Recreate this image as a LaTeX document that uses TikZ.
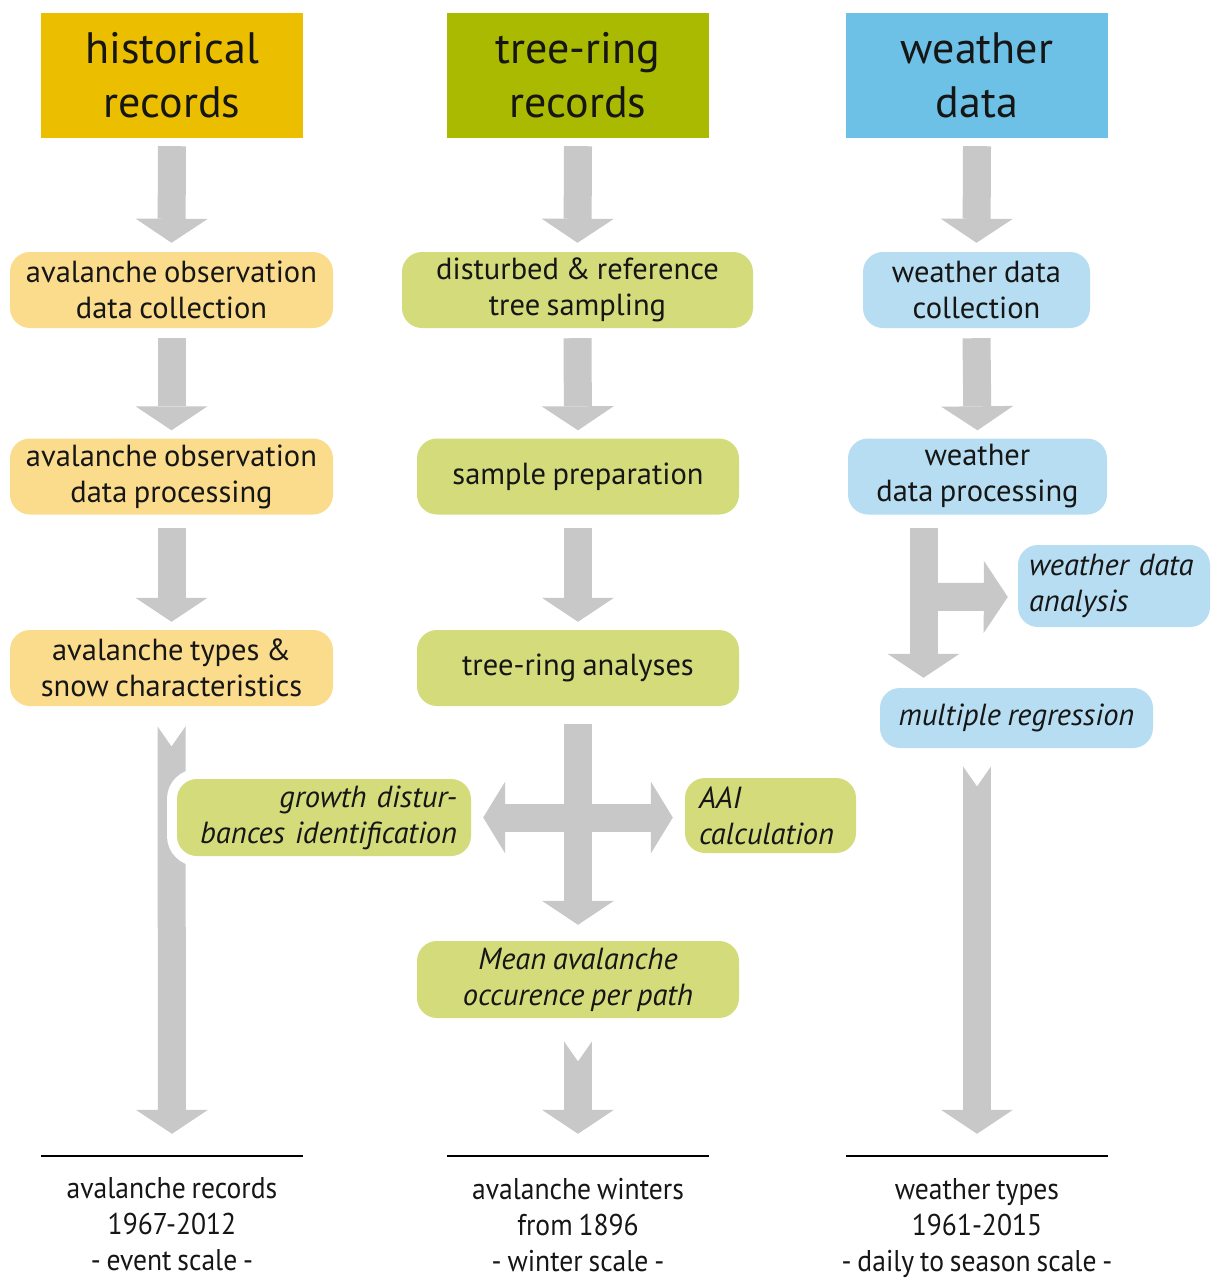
\documentclass[tikz,border=0pt]{standalone}
\usepackage{fontspec}
\setmainfont{PT Sans}[WordSpace=0.8]
\newfontfamily\narrowfont[FakeStretch=0.92,WordSpace=0.8]{PT Sans}
\usetikzlibrary{arrows.meta,calc}
\definecolor{hdrY}{HTML}{EBBE00}
\definecolor{hdrG}{HTML}{A9BA00}
\definecolor{hdrB}{HTML}{6DC1E6}
\definecolor{boxY}{HTML}{FADC8C}
\definecolor{boxG}{HTML}{D4DB7A}
\definecolor{boxB}{HTML}{B6DDF1}
\definecolor{agray}{HTML}{C8C8C8}
\definecolor{ink}{HTML}{161616}
\newcommand\notchat[1]{\fill[white] ($(#1)+(-15,-0.5)$) -- ($(#1)+(15,-0.5)$) -- ($(#1)+(0,21)$) -- cycle;}
\begin{document}
\begin{tikzpicture}[x=1pt,y=-1pt,
 hdr/.style={rectangle, minimum width=262pt, minimum height=125pt, inner sep=0pt, align=center, text=ink, font=\fontsize{44}{54}\selectfont},
 bx/.style={rectangle, rounded corners=20pt, minimum height=76pt, inner sep=0pt, align=center, text=ink, font=\fontsize{30.5}{36}\selectfont},
 it/.style={font=\fontsize{30.5}{36}\selectfont\itshape},
 fat/.style={draw=agray, line width=28pt, -{Triangle[width=72pt,length=24pt,line width=0pt]}},
 fatd/.style={draw=agray, line width=28pt, {Triangle[width=72pt,length=22pt,line width=0pt]}-{Triangle[width=72pt,length=22pt,line width=0pt]}},
 rule/.style={fill=black, minimum width=262pt, minimum height=2pt, inner sep=0pt},
 lbl/.style={anchor=north, align=center, inner sep=0pt, text=ink, font=\narrowfont\fontsize{30}{36}\selectfont},
]
\fill[white] (0,0) rectangle (1210,1279);
\useasboundingbox (0,0) rectangle (1210,1279);

% headers
\node[hdr, fill=hdrY] (h1) at (172,75.5) {historical\\records};
\node[hdr, fill=hdrG] (h2) at (578,75.5) {tree-ring\\records};
\node[hdr, fill=hdrB] (h3) at (977,75.5) {weather\\data};

% left column
\node[bx, fill=boxY, minimum width=323pt] (a1) at (171.5,290) {avalanche observation\\data collection};
\node[bx, fill=boxY, minimum width=323pt] (a2) at (171.5,476.5) {avalanche observation\\data processing};
\node[bx, fill=boxY, minimum width=323pt] (a3) at (171.5,668) {avalanche types \&\\snow characteristics};

% middle column
\node[bx, fill=boxG, minimum width=351pt] (t1) at (577.5,290) {disturbed \& reference\\tree sampling\vphantom{l}\smash{\vphantom{g}}};
\node[bx, fill=boxG, minimum width=322pt] (t2) at (578,476.5) {sample preparation};
\node[bx, fill=boxG, minimum width=322pt] (t3) at (578,668) {tree-ring analyses};
\node[bx, it, fill=boxG, minimum width=322pt, minimum height=77pt] (t4) at (578,979.5) {Mean avalanche\\occurence per path};
\node[bx, it, fill=boxG, text width=143pt, inner xsep=14pt, align=left, minimum height=75pt] (aai) at (770.5,815.5) {AAI\\calculation};

% right column
\node[bx, fill=boxB, minimum width=227pt] (w1) at (976.5,290) {weather data\\collection};
\node[bx, fill=boxB, minimum width=259pt] (w2) at (977.5,476.5) {weather\\data processing};
\node[bx, it, fill=boxB, text width=170pt, inner xsep=11pt, align=left, minimum height=82pt] (w3) at (1114,586) {weather data\\analysis};
\node[bx, it, fill=boxB, minimum width=273pt, minimum height=60pt] (w4) at (1016.5,718) {multiple regression};

% bottom rules and labels
\node[rule] (r1) at (172,1156) {};
\node[rule] (r2) at (578,1156) {};
\node[rule] (r3) at (977,1156) {};
\node[lbl] (l1) at ([yshift=-20pt]r1.south) {avalanche records\\1967-2012\\- event scale -};
\node[lbl] (l2) at ([yshift=-21pt]r2.south) {avalanche winters\\from 1896\\- winter scale -};
\node[lbl] (l3) at ([yshift=-21pt]r3.south) {weather types\\1961-2015\\- daily to season scale -};

% simple arrows
\draw[fat] ([yshift=-8pt]h1.south) -- ([yshift=9pt]a1.north);
\draw[fat] ([yshift=-10pt]a1.south) -- ([yshift=8pt]a2.north);
\draw[fat] ([yshift=-13pt]a2.south) -- ([yshift=8pt]a3.north);
\draw[fat] ([yshift=-8pt]h2.south) -- ([yshift=9pt]t1.north);
\draw[fat] ([yshift=-10pt]t1.south) -- ([yshift=8pt]t2.north);
\draw[fat] ([yshift=-13pt]t2.south) -- ([yshift=8pt]t3.north);
\draw[fat] ([yshift=-8pt]h3.south) -- ([yshift=9pt]w1.north);
\draw[fat] ([yshift=-10pt]w1.south) -- ([yshift=8pt]w2.north);

% long left arrow
\coordinate (s1) at ([yshift=-19pt]a3.south);
\draw[fat] (s1) -- ([yshift=21pt]r1.north);
\notchat{s1}

% cross in middle
\draw[fat] ([yshift=-18pt]t3.south) -- ([yshift=16pt]t4.north);

% growth disturbances box (white halo over long arrow)
\node[bx, it, fill=boxG, preaction={draw=white,line width=20pt}, text width=266pt, inner xsep=14pt, align=right, minimum height=77pt] (gd) at (324,817.5) {growth distur-\\bances identification};
\draw[fatd] ([xshift=12pt]gd.east) -- ($(gd.east -| aai.west)+(-12,0)$);

% mean -> bottom
\coordinate (s2) at ([yshift=-22pt]t4.south);
\draw[fat] (s2) -- ([yshift=21pt]r2.north);
\notchat{s2}

% weather branch
\coordinate (s3) at ([xshift=-54pt,yshift=-13pt]w2.south);
\draw[fat] (s3) -- ([yshift=10pt]w4.north -| s3);
\coordinate (br) at ($(s3)+(0,69)$);
\draw[fat] (br) -- ($(w3.west)+(-10,11)$);

% weather long arrow
\coordinate (s4) at ($(r3 |- w4.south)+(0,17)$);
\draw[fat] (s4) -- ([yshift=21pt]r3.north);
\notchat{s4}
\end{tikzpicture}
\end{document}
